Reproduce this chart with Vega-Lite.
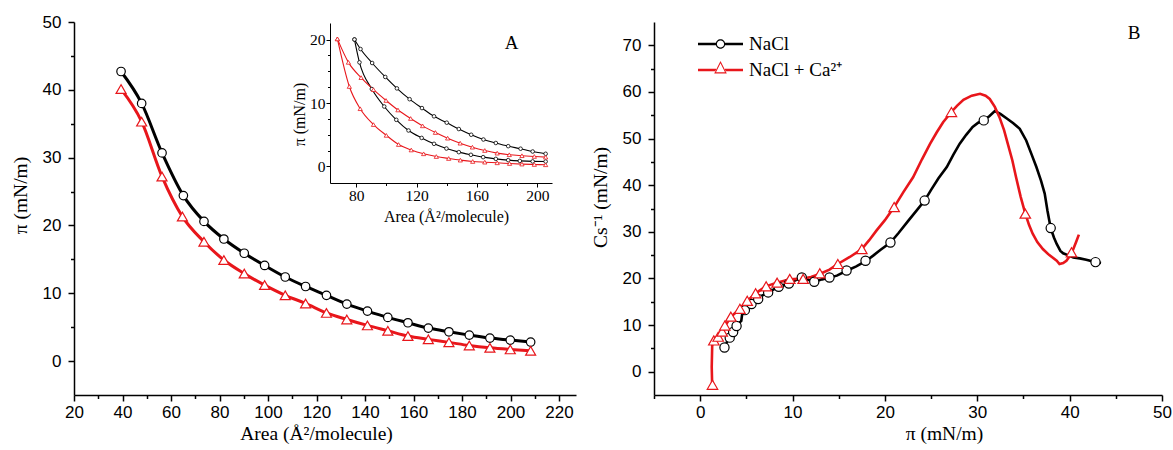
{
  "$schema": "https://vega.github.io/schema/vega-lite/v6.json",
  "width": 1173,
  "height": 450,
  "padding": 0,
  "autosize": {"type": "none"},
  "background": "white",
  "config": {
    "view": {"stroke": null},
    "axis": {"grid": false, "domainColor": "black", "tickColor": "black", "labelColor": "black", "titleColor": "black", "titleFontWeight": "normal", "labelFlush": false, "labelOverlap": false, "domainWidth": 1.5, "tickWidth": 1.5},
    "legend": {"orient": "none", "legendX": 698, "legendY": 34, "padding": 0, "labelFont": "Liberation Serif", "labelFontSize": 19, "labelColor": "black", "symbolSize": 2025, "clipHeight": 20, "rowPadding": 6, "labelOffset": 6, "labelLimit": 300, "symbolStrokeWidth": 0}
  },
  "datasets": {
    "amain": [
      {"series": "NaCl", "x": 39.4, "y": 42.7}, {"series": "NaCl", "x": 47.9, "y": 38.0}, {"series": "NaCl", "x": 56.3, "y": 30.7}, {"series": "NaCl", "x": 65.1, "y": 24.4}, {"series": "NaCl", "x": 73.6, "y": 20.6}, {"series": "NaCl", "x": 81.8, "y": 18.0}, {"series": "NaCl", "x": 90.2, "y": 15.9}, {"series": "NaCl", "x": 98.6, "y": 14.1}, {"series": "NaCl", "x": 107.1, "y": 12.4}, {"series": "NaCl", "x": 115.5, "y": 11.0}, {"series": "NaCl", "x": 124.1, "y": 9.7}, {"series": "NaCl", "x": 132.5, "y": 8.4}, {"series": "NaCl", "x": 141.0, "y": 7.37}, {"series": "NaCl", "x": 149.4, "y": 6.44}, {"series": "NaCl", "x": 157.7, "y": 5.65}, {"series": "NaCl", "x": 166.1, "y": 4.87}, {"series": "NaCl", "x": 174.6, "y": 4.32}, {"series": "NaCl", "x": 183.0, "y": 3.83}, {"series": "NaCl", "x": 191.5, "y": 3.39}, {"series": "NaCl", "x": 199.9, "y": 3.1}, {"series": "NaCl", "x": 208.3, "y": 2.8},
      {"series": "NaCl + Ca²⁺", "x": 39.4, "y": 40.1}, {"series": "NaCl + Ca²⁺", "x": 47.9, "y": 35.3}, {"series": "NaCl + Ca²⁺", "x": 56.3, "y": 27.2}, {"series": "NaCl + Ca²⁺", "x": 64.7, "y": 21.3}, {"series": "NaCl + Ca²⁺", "x": 73.6, "y": 17.6}, {"series": "NaCl + Ca²⁺", "x": 81.8, "y": 14.9}, {"series": "NaCl + Ca²⁺", "x": 90.2, "y": 12.9}, {"series": "NaCl + Ca²⁺", "x": 98.6, "y": 11.2}, {"series": "NaCl + Ca²⁺", "x": 107.1, "y": 9.7}, {"series": "NaCl + Ca²⁺", "x": 115.5, "y": 8.5}, {"series": "NaCl + Ca²⁺", "x": 124.1, "y": 7.1}, {"series": "NaCl + Ca²⁺", "x": 132.5, "y": 6.14}, {"series": "NaCl + Ca²⁺", "x": 141.0, "y": 5.26}, {"series": "NaCl + Ca²⁺", "x": 149.4, "y": 4.47}, {"series": "NaCl + Ca²⁺", "x": 157.7, "y": 3.69}, {"series": "NaCl + Ca²⁺", "x": 166.1, "y": 3.2}, {"series": "NaCl + Ca²⁺", "x": 174.6, "y": 2.76}, {"series": "NaCl + Ca²⁺", "x": 183.0, "y": 2.3}, {"series": "NaCl + Ca²⁺", "x": 191.5, "y": 1.96}, {"series": "NaCl + Ca²⁺", "x": 199.9, "y": 1.72}, {"series": "NaCl + Ca²⁺", "x": 208.3, "y": 1.52}
    ],
    "inset": [
      {"series": "NaCl", "cycle": "c", "x": 78.9, "y": 20.0}, {"series": "NaCl", "cycle": "c", "x": 82.9, "y": 18.5}, {"series": "NaCl", "cycle": "c", "x": 90.6, "y": 16.3}, {"series": "NaCl", "cycle": "c", "x": 99.3, "y": 14.1}, {"series": "NaCl", "cycle": "c", "x": 107.0, "y": 12.3}, {"series": "NaCl", "cycle": "c", "x": 115.4, "y": 10.6}, {"series": "NaCl", "cycle": "c", "x": 123.6, "y": 9.2}, {"series": "NaCl", "cycle": "c", "x": 131.6, "y": 7.9}, {"series": "NaCl", "cycle": "c", "x": 140.0, "y": 6.9}, {"series": "NaCl", "cycle": "c", "x": 148.0, "y": 5.9}, {"series": "NaCl", "cycle": "c", "x": 156.2, "y": 5.0}, {"series": "NaCl", "cycle": "c", "x": 164.3, "y": 4.25}, {"series": "NaCl", "cycle": "c", "x": 172.5, "y": 3.7}, {"series": "NaCl", "cycle": "c", "x": 180.7, "y": 3.2}, {"series": "NaCl", "cycle": "c", "x": 188.9, "y": 2.8}, {"series": "NaCl", "cycle": "c", "x": 196.9, "y": 2.36}, {"series": "NaCl", "cycle": "c", "x": 205.5, "y": 2.0},
      {"series": "NaCl", "cycle": "e", "x": 78.9, "y": 20.0}, {"series": "NaCl", "cycle": "e", "x": 82.2, "y": 16.4}, {"series": "NaCl", "cycle": "e", "x": 90.4, "y": 12.2}, {"series": "NaCl", "cycle": "e", "x": 98.6, "y": 9.45}, {"series": "NaCl", "cycle": "e", "x": 106.6, "y": 7.35}, {"series": "NaCl", "cycle": "e", "x": 114.7, "y": 5.67}, {"series": "NaCl", "cycle": "e", "x": 123.4, "y": 4.5}, {"series": "NaCl", "cycle": "e", "x": 131.6, "y": 3.57}, {"series": "NaCl", "cycle": "e", "x": 139.8, "y": 2.83}, {"series": "NaCl", "cycle": "e", "x": 148.0, "y": 2.26}, {"series": "NaCl", "cycle": "e", "x": 156.0, "y": 1.84}, {"series": "NaCl", "cycle": "e", "x": 164.1, "y": 1.47}, {"series": "NaCl", "cycle": "e", "x": 172.5, "y": 1.2}, {"series": "NaCl", "cycle": "e", "x": 180.7, "y": 1.0}, {"series": "NaCl", "cycle": "e", "x": 188.4, "y": 0.88}, {"series": "NaCl", "cycle": "e", "x": 196.9, "y": 0.8}, {"series": "NaCl", "cycle": "e", "x": 205.5, "y": 0.78},
      {"series": "NaCl + Ca²⁺", "cycle": "c", "x": 67.6, "y": 20.1}, {"series": "NaCl + Ca²⁺", "cycle": "c", "x": 74.9, "y": 16.4}, {"series": "NaCl + Ca²⁺", "cycle": "c", "x": 83.3, "y": 14.0}, {"series": "NaCl + Ca²⁺", "cycle": "c", "x": 91.5, "y": 12.1}, {"series": "NaCl + Ca²⁺", "cycle": "c", "x": 99.8, "y": 10.4}, {"series": "NaCl + Ca²⁺", "cycle": "c", "x": 107.7, "y": 8.9}, {"series": "NaCl + Ca²⁺", "cycle": "c", "x": 116.1, "y": 7.56}, {"series": "NaCl + Ca²⁺", "cycle": "c", "x": 124.0, "y": 6.4}, {"series": "NaCl + Ca²⁺", "cycle": "c", "x": 132.5, "y": 5.35}, {"series": "NaCl + Ca²⁺", "cycle": "c", "x": 140.6, "y": 4.46}, {"series": "NaCl + Ca²⁺", "cycle": "c", "x": 148.9, "y": 3.67}, {"series": "NaCl + Ca²⁺", "cycle": "c", "x": 157.0, "y": 3.04}, {"series": "NaCl + Ca²⁺", "cycle": "c", "x": 165.2, "y": 2.52}, {"series": "NaCl + Ca²⁺", "cycle": "c", "x": 173.4, "y": 2.1}, {"series": "NaCl + Ca²⁺", "cycle": "c", "x": 181.4, "y": 1.85}, {"series": "NaCl + Ca²⁺", "cycle": "c", "x": 189.8, "y": 1.7}, {"series": "NaCl + Ca²⁺", "cycle": "c", "x": 198.0, "y": 1.58}, {"series": "NaCl + Ca²⁺", "cycle": "c", "x": 205.5, "y": 1.47},
      {"series": "NaCl + Ca²⁺", "cycle": "e", "x": 67.6, "y": 20.1}, {"series": "NaCl + Ca²⁺", "cycle": "e", "x": 75.5, "y": 12.6}, {"series": "NaCl + Ca²⁺", "cycle": "e", "x": 82.7, "y": 9.1}, {"series": "NaCl + Ca²⁺", "cycle": "e", "x": 91.5, "y": 6.6}, {"series": "NaCl + Ca²⁺", "cycle": "e", "x": 100.0, "y": 4.9}, {"series": "NaCl + Ca²⁺", "cycle": "e", "x": 108.1, "y": 3.46}, {"series": "NaCl + Ca²⁺", "cycle": "e", "x": 116.5, "y": 2.6}, {"series": "NaCl + Ca²⁺", "cycle": "e", "x": 124.7, "y": 2.0}, {"series": "NaCl + Ca²⁺", "cycle": "e", "x": 133.1, "y": 1.57}, {"series": "NaCl + Ca²⁺", "cycle": "e", "x": 141.3, "y": 1.26}, {"series": "NaCl + Ca²⁺", "cycle": "e", "x": 149.0, "y": 1.0}, {"series": "NaCl + Ca²⁺", "cycle": "e", "x": 157.2, "y": 0.79}, {"series": "NaCl + Ca²⁺", "cycle": "e", "x": 165.2, "y": 0.68}, {"series": "NaCl + Ca²⁺", "cycle": "e", "x": 173.4, "y": 0.58}, {"series": "NaCl + Ca²⁺", "cycle": "e", "x": 181.6, "y": 0.47}, {"series": "NaCl + Ca²⁺", "cycle": "e", "x": 189.8, "y": 0.38}, {"series": "NaCl + Ca²⁺", "cycle": "e", "x": 198.0, "y": 0.32}, {"series": "NaCl + Ca²⁺", "cycle": "e", "x": 205.5, "y": 0.27}
    ],
    "bline": [
      {"series": "NaCl", "i": 0, "x": 2.6, "y": 5.0}, {"series": "NaCl", "i": 1, "x": 2.9, "y": 6.4}, {"series": "NaCl", "i": 2, "x": 3.2, "y": 7.5}, {"series": "NaCl", "i": 3, "x": 3.6, "y": 8.7}, {"series": "NaCl", "i": 4, "x": 3.9, "y": 9.7}, {"series": "NaCl", "i": 5, "x": 4.2, "y": 10.4}, {"series": "NaCl", "i": 6, "x": 4.45, "y": 10.9}, {"series": "NaCl", "i": 7, "x": 4.55, "y": 12.4}, {"series": "NaCl", "i": 8, "x": 5.0, "y": 13.4}, {"series": "NaCl", "i": 9, "x": 5.5, "y": 14.4}, {"series": "NaCl", "i": 10, "x": 6.1, "y": 15.4}, {"series": "NaCl", "i": 11, "x": 6.7, "y": 16.3}, {"series": "NaCl", "i": 12, "x": 7.4, "y": 17.0}, {"series": "NaCl", "i": 13, "x": 8.1, "y": 17.8}, {"series": "NaCl", "i": 14, "x": 8.8, "y": 18.4}, {"series": "NaCl", "i": 15, "x": 9.6, "y": 18.9}, {"series": "NaCl", "i": 16, "x": 10.3, "y": 19.6}, {"series": "NaCl", "i": 17, "x": 11.0, "y": 20.2}, {"series": "NaCl", "i": 18, "x": 11.7, "y": 19.7}, {"series": "NaCl", "i": 19, "x": 12.4, "y": 19.3}, {"series": "NaCl", "i": 20, "x": 13.2, "y": 19.8}, {"series": "NaCl", "i": 21, "x": 14.0, "y": 20.2}, {"series": "NaCl", "i": 22, "x": 14.8, "y": 20.6}, {"series": "NaCl", "i": 23, "x": 15.8, "y": 21.6}, {"series": "NaCl", "i": 24, "x": 16.9, "y": 22.6}, {"series": "NaCl", "i": 25, "x": 18.0, "y": 23.8}, {"series": "NaCl", "i": 26, "x": 18.8, "y": 25.0}, {"series": "NaCl", "i": 27, "x": 19.5, "y": 26.1}, {"series": "NaCl", "i": 28, "x": 20.6, "y": 27.7}, {"series": "NaCl", "i": 29, "x": 21.5, "y": 29.8}, {"series": "NaCl", "i": 30, "x": 22.5, "y": 32.3}, {"series": "NaCl", "i": 31, "x": 23.4, "y": 34.5}, {"series": "NaCl", "i": 32, "x": 24.3, "y": 36.7}, {"series": "NaCl", "i": 33, "x": 25.0, "y": 39.0}, {"series": "NaCl", "i": 34, "x": 25.8, "y": 41.5}, {"series": "NaCl", "i": 35, "x": 26.7, "y": 43.9}, {"series": "NaCl", "i": 36, "x": 27.4, "y": 46.5}, {"series": "NaCl", "i": 37, "x": 28.1, "y": 48.9}, {"series": "NaCl", "i": 38, "x": 28.8, "y": 50.8}, {"series": "NaCl", "i": 39, "x": 29.5, "y": 52.5}, {"series": "NaCl", "i": 40, "x": 30.1, "y": 53.4}, {"series": "NaCl", "i": 41, "x": 30.7, "y": 53.9}, {"series": "NaCl", "i": 42, "x": 31.3, "y": 54.8}, {"series": "NaCl", "i": 43, "x": 31.9, "y": 55.9}, {"series": "NaCl", "i": 44, "x": 32.5, "y": 55.3}, {"series": "NaCl", "i": 45, "x": 33.2, "y": 54.3}, {"series": "NaCl", "i": 46, "x": 33.9, "y": 53.3}, {"series": "NaCl", "i": 47, "x": 34.6, "y": 52.1}, {"series": "NaCl", "i": 48, "x": 35.3, "y": 49.6}, {"series": "NaCl", "i": 49, "x": 35.9, "y": 46.5}, {"series": "NaCl", "i": 50, "x": 36.4, "y": 43.9}, {"series": "NaCl", "i": 51, "x": 36.9, "y": 41.0}, {"series": "NaCl", "i": 52, "x": 37.3, "y": 38.2}, {"series": "NaCl", "i": 53, "x": 37.6, "y": 34.5}, {"series": "NaCl", "i": 54, "x": 37.95, "y": 30.8}, {"series": "NaCl", "i": 55, "x": 38.3, "y": 28.8}, {"series": "NaCl", "i": 56, "x": 38.6, "y": 27.4}, {"series": "NaCl", "i": 57, "x": 39.0, "y": 25.9}, {"series": "NaCl", "i": 58, "x": 39.3, "y": 25.4}, {"series": "NaCl", "i": 59, "x": 39.8, "y": 25.0}, {"series": "NaCl", "i": 60, "x": 40.4, "y": 24.5}, {"series": "NaCl", "i": 61, "x": 41.1, "y": 24.3}, {"series": "NaCl", "i": 62, "x": 41.8, "y": 24.0}, {"series": "NaCl", "i": 63, "x": 42.8, "y": 23.5}, {"series": "NaCl", "i": 64, "x": 43.4, "y": 23.3},
      {"series": "NaCl + Ca²⁺", "i": 0, "x": 1.3, "y": -3.0}, {"series": "NaCl + Ca²⁺", "i": 1, "x": 1.25, "y": 1.0}, {"series": "NaCl + Ca²⁺", "i": 2, "x": 1.3, "y": 5.5}, {"series": "NaCl + Ca²⁺", "i": 3, "x": 1.4, "y": 6.7}, {"series": "NaCl + Ca²⁺", "i": 4, "x": 1.95, "y": 7.6}, {"series": "NaCl + Ca²⁺", "i": 5, "x": 2.4, "y": 8.7}, {"series": "NaCl + Ca²⁺", "i": 6, "x": 2.7, "y": 9.8}, {"series": "NaCl + Ca²⁺", "i": 7, "x": 3.3, "y": 11.7}, {"series": "NaCl + Ca²⁺", "i": 8, "x": 4.3, "y": 13.5}, {"series": "NaCl + Ca²⁺", "i": 9, "x": 5.1, "y": 15.2}, {"series": "NaCl + Ca²⁺", "i": 10, "x": 6.0, "y": 16.8}, {"series": "NaCl + Ca²⁺", "i": 11, "x": 7.1, "y": 18.3}, {"series": "NaCl + Ca²⁺", "i": 12, "x": 8.3, "y": 19.1}, {"series": "NaCl + Ca²⁺", "i": 13, "x": 9.7, "y": 19.8}, {"series": "NaCl + Ca²⁺", "i": 14, "x": 11.1, "y": 20.0}, {"series": "NaCl + Ca²⁺", "i": 15, "x": 12.0, "y": 20.3}, {"series": "NaCl + Ca²⁺", "i": 16, "x": 13.0, "y": 21.0}, {"series": "NaCl + Ca²⁺", "i": 17, "x": 14.0, "y": 21.9}, {"series": "NaCl + Ca²⁺", "i": 18, "x": 14.9, "y": 23.1}, {"series": "NaCl + Ca²⁺", "i": 19, "x": 16.2, "y": 24.6}, {"series": "NaCl + Ca²⁺", "i": 20, "x": 17.5, "y": 26.3}, {"series": "NaCl + Ca²⁺", "i": 21, "x": 18.3, "y": 28.2}, {"series": "NaCl + Ca²⁺", "i": 22, "x": 19.1, "y": 30.3}, {"series": "NaCl + Ca²⁺", "i": 23, "x": 20.0, "y": 32.5}, {"series": "NaCl + Ca²⁺", "i": 24, "x": 21.0, "y": 35.3}, {"series": "NaCl + Ca²⁺", "i": 25, "x": 22.0, "y": 38.5}, {"series": "NaCl + Ca²⁺", "i": 26, "x": 23.05, "y": 41.7}, {"series": "NaCl + Ca²⁺", "i": 27, "x": 24.0, "y": 45.5}, {"series": "NaCl + Ca²⁺", "i": 28, "x": 24.9, "y": 48.9}, {"series": "NaCl + Ca²⁺", "i": 29, "x": 25.6, "y": 51.3}, {"series": "NaCl + Ca²⁺", "i": 30, "x": 26.3, "y": 53.5}, {"series": "NaCl + Ca²⁺", "i": 31, "x": 27.2, "y": 55.7}, {"series": "NaCl + Ca²⁺", "i": 32, "x": 27.8, "y": 57.0}, {"series": "NaCl + Ca²⁺", "i": 33, "x": 28.5, "y": 58.3}, {"series": "NaCl + Ca²⁺", "i": 34, "x": 29.4, "y": 59.2}, {"series": "NaCl + Ca²⁺", "i": 35, "x": 30.3, "y": 59.6}, {"series": "NaCl + Ca²⁺", "i": 36, "x": 30.9, "y": 59.2}, {"series": "NaCl + Ca²⁺", "i": 37, "x": 31.35, "y": 58.5}, {"series": "NaCl + Ca²⁺", "i": 38, "x": 31.9, "y": 56.8}, {"series": "NaCl + Ca²⁺", "i": 39, "x": 32.4, "y": 54.6}, {"series": "NaCl + Ca²⁺", "i": 40, "x": 32.9, "y": 51.8}, {"series": "NaCl + Ca²⁺", "i": 41, "x": 33.3, "y": 48.9}, {"series": "NaCl + Ca²⁺", "i": 42, "x": 33.8, "y": 45.3}, {"series": "NaCl + Ca²⁺", "i": 43, "x": 34.2, "y": 41.7}, {"series": "NaCl + Ca²⁺", "i": 44, "x": 34.7, "y": 37.5}, {"series": "NaCl + Ca²⁺", "i": 45, "x": 35.2, "y": 33.9}, {"series": "NaCl + Ca²⁺", "i": 46, "x": 35.6, "y": 31.5}, {"series": "NaCl + Ca²⁺", "i": 47, "x": 36.0, "y": 29.6}, {"series": "NaCl + Ca²⁺", "i": 48, "x": 36.5, "y": 27.8}, {"series": "NaCl + Ca²⁺", "i": 49, "x": 37.1, "y": 26.3}, {"series": "NaCl + Ca²⁺", "i": 50, "x": 37.8, "y": 25.0}, {"series": "NaCl + Ca²⁺", "i": 51, "x": 38.6, "y": 23.8}, {"series": "NaCl + Ca²⁺", "i": 52, "x": 38.9, "y": 23.1}, {"series": "NaCl + Ca²⁺", "i": 53, "x": 39.3, "y": 23.3}, {"series": "NaCl + Ca²⁺", "i": 54, "x": 39.65, "y": 23.8}, {"series": "NaCl + Ca²⁺", "i": 55, "x": 40.2, "y": 25.3}, {"series": "NaCl + Ca²⁺", "i": 56, "x": 40.7, "y": 27.8}, {"series": "NaCl + Ca²⁺", "i": 57, "x": 41.0, "y": 29.4}
    ],
    "bmark": [
      {"series": "NaCl", "x": 2.63, "y": 5.2}, {"series": "NaCl", "x": 3.2, "y": 7.3}, {"series": "NaCl", "x": 3.57, "y": 8.5}, {"series": "NaCl", "x": 3.94, "y": 9.8}, {"series": "NaCl", "x": 4.84, "y": 13.2}, {"series": "NaCl", "x": 5.56, "y": 14.5}, {"series": "NaCl", "x": 6.28, "y": 15.6}, {"series": "NaCl", "x": 7.36, "y": 17.0}, {"series": "NaCl", "x": 8.5, "y": 18.2}, {"series": "NaCl", "x": 9.6, "y": 18.9}, {"series": "NaCl", "x": 11.0, "y": 20.2}, {"series": "NaCl", "x": 12.35, "y": 19.3}, {"series": "NaCl", "x": 14.0, "y": 20.2}, {"series": "NaCl", "x": 15.85, "y": 21.7}, {"series": "NaCl", "x": 17.9, "y": 23.8}, {"series": "NaCl", "x": 20.6, "y": 27.7}, {"series": "NaCl", "x": 24.3, "y": 36.7}, {"series": "NaCl", "x": 30.7, "y": 53.9}, {"series": "NaCl", "x": 37.95, "y": 30.8}, {"series": "NaCl", "x": 42.8, "y": 23.5},
      {"series": "NaCl + Ca²⁺", "x": 1.33, "y": -2.8}, {"series": "NaCl + Ca²⁺", "x": 1.48, "y": 6.7}, {"series": "NaCl + Ca²⁺", "x": 1.95, "y": 7.5}, {"series": "NaCl + Ca²⁺", "x": 2.38, "y": 8.6}, {"series": "NaCl + Ca²⁺", "x": 2.67, "y": 9.9}, {"series": "NaCl + Ca²⁺", "x": 3.32, "y": 11.8}, {"series": "NaCl + Ca²⁺", "x": 4.3, "y": 13.5}, {"series": "NaCl + Ca²⁺", "x": 5.09, "y": 15.2}, {"series": "NaCl + Ca²⁺", "x": 6.0, "y": 16.8}, {"series": "NaCl + Ca²⁺", "x": 7.14, "y": 18.3}, {"series": "NaCl + Ca²⁺", "x": 8.33, "y": 19.1}, {"series": "NaCl + Ca²⁺", "x": 9.7, "y": 19.9}, {"series": "NaCl + Ca²⁺", "x": 11.15, "y": 19.9}, {"series": "NaCl + Ca²⁺", "x": 12.95, "y": 21.1}, {"series": "NaCl + Ca²⁺", "x": 14.9, "y": 23.1}, {"series": "NaCl + Ca²⁺", "x": 17.5, "y": 26.3}, {"series": "NaCl + Ca²⁺", "x": 21.0, "y": 35.3}, {"series": "NaCl + Ca²⁺", "x": 27.2, "y": 55.7}, {"series": "NaCl + Ca²⁺", "x": 35.2, "y": 33.9}, {"series": "NaCl + Ca²⁺", "x": 40.2, "y": 25.6}
    ]
  },
  "layer": [
    {
      "data": {"name": "amain"},
      "encoding": {
        "x": {"field": "x", "type": "quantitative", "scale": {"domain": [20, 227], "range": [74, 576], "nice": false, "zero": false},
          "axis": {"orient": "bottom", "offset": -55, "values": [20, 30, 40, 50, 60, 70, 80, 90, 100, 110, 120, 130, 140, 150, 160, 170, 180, 190, 200, 210, 220], "labelExpr": "datum.value % 20 === 0 ? datum.label : ''", "tickSize": {"condition": {"test": "datum.value % 20 === 0", "value": 6}, "value": 3.5}, "title": "Area (Å²/molecule)", "titleFont": "Liberation Serif", "titleFontSize": 19.5, "labelFont": "Liberation Sans", "labelFontSize": 17, "labelPadding": 3, "titlePadding": 4, "titleX": 316}},
        "y": {"field": "y", "type": "quantitative", "scale": {"domain": [-5, 50], "range": [395, 22], "nice": false, "zero": false},
          "axis": {"orient": "left", "offset": -74, "values": [0, 5, 10, 15, 20, 25, 30, 35, 40, 45, 50], "labelExpr": "datum.value % 10 === 0 ? datum.label : ''", "tickSize": {"condition": {"test": "datum.value % 10 === 0", "value": 6}, "value": 3.5}, "title": "π (mN/m)", "titleFont": "Liberation Serif", "titleFontSize": 19.5, "labelFont": "Liberation Sans", "labelFontSize": 17, "labelPadding": 7, "titlePadding": 12, "titleY": 195}}
      },
      "layer": [
        {"mark": {"type": "line", "interpolate": "monotone", "strokeWidth": 3},
          "encoding": {"stroke": {"field": "series", "type": "nominal", "scale": {"domain": ["NaCl + Ca²⁺", "NaCl"], "range": ["#e8161b", "black"]}, "legend": null}}},
        {"transform": [{"filter": "datum.series === 'NaCl'"}], "mark": {"type": "point", "shape": "circle", "filled": false, "fill": "white", "size": 72, "strokeWidth": 1.2, "opacity": 1},
          "encoding": {"stroke": {"field": "series", "type": "nominal", "legend": null}}},
        {"transform": [{"filter": "datum.series !== 'NaCl'"}], "mark": {"type": "point", "shape": "triangle-up", "filled": false, "fill": "white", "size": 100, "strokeWidth": 1.2, "opacity": 1},
          "encoding": {"stroke": {"field": "series", "type": "nominal", "legend": null}}},
        {"data": {"values": [{"label": "A", "x": 200.5, "y": 46.9}]}, "mark": {"type": "text", "font": "Liberation Serif", "fontSize": 19, "color": "black", "baseline": "middle", "align": "center"},
          "encoding": {"text": {"field": "label", "type": "nominal"}}}
      ]
    },
    {
      "data": {"name": "inset"},
      "encoding": {
        "x": {"field": "x", "type": "quantitative", "scale": {"domain": [62.7, 209.7], "range": [330, 552], "nice": false, "zero": false},
          "axis": {"orient": "bottom", "offset": -267, "values": [80, 100, 120, 140, 160, 180, 200], "labelExpr": "datum.value % 40 === 0 ? datum.label : ''", "tickSize": {"condition": {"test": "datum.value % 40 === 0", "value": 4}, "value": 2.5}, "title": "Area (Å²/molecule)", "titleFont": "Liberation Serif", "titleFontSize": 16, "labelFont": "Liberation Serif", "labelFontSize": 15.5, "labelPadding": 1, "titlePadding": 5, "titleX": 446, "domainWidth": 1, "tickWidth": 1}},
        "y": {"field": "y", "type": "quantitative", "scale": {"domain": [-2.6, 22.6], "range": [183, 23], "nice": false, "zero": false},
          "axis": {"orient": "left", "offset": -330, "values": [0, 2.5, 5, 7.5, 10, 12.5, 15, 17.5, 20], "labelExpr": "datum.value % 10 === 0 ? datum.label : ''", "tickSize": {"condition": {"test": "datum.value % 10 === 0", "value": 4}, "value": 2.5}, "title": "π (mN/m)", "titleFont": "Liberation Serif", "titleFontSize": 16, "labelFont": "Liberation Serif", "labelFontSize": 15.5, "labelPadding": 1, "titlePadding": 2, "titleY": 114, "domainWidth": 1, "tickWidth": 1}}
      },
      "layer": [
        {"mark": {"type": "line", "interpolate": "monotone", "strokeWidth": 1.1},
          "encoding": {"detail": {"field": "cycle", "type": "nominal"}, "stroke": {"field": "series", "type": "nominal", "legend": null}}},
        {"transform": [{"filter": "datum.series === 'NaCl'"}], "mark": {"type": "point", "shape": "circle", "filled": false, "fill": "white", "size": 13, "strokeWidth": 0.8, "opacity": 1},
          "encoding": {"stroke": {"field": "series", "type": "nominal", "legend": null}}},
        {"transform": [{"filter": "datum.series !== 'NaCl'"}], "mark": {"type": "point", "shape": "triangle-up", "filled": false, "fill": "white", "size": 18, "strokeWidth": 0.8, "opacity": 1},
          "encoding": {"stroke": {"field": "series", "type": "nominal", "legend": null}}}
      ]
    },
    {
      "encoding": {
        "x": {"field": "x", "type": "quantitative", "scale": {"domain": [-5, 50], "range": [654, 1162], "nice": false, "zero": false},
          "axis": {"orient": "bottom", "offset": -55, "values": [-5, 0, 5, 10, 15, 20, 25, 30, 35, 40, 45, 50], "labelExpr": "datum.value % 10 === 0 ? datum.label : ''", "tickSize": {"condition": {"test": "datum.value % 10 === 0", "value": 6}, "value": 3.5}, "title": "π (mN/m)", "titleFont": "Liberation Serif", "titleFontSize": 19.5, "labelFont": "Liberation Sans", "labelFontSize": 17, "labelPadding": 3, "titlePadding": 4, "titleX": 944}},
        "y": {"field": "y", "type": "quantitative", "scale": {"domain": [-5, 75], "range": [395, 22], "nice": false, "zero": false},
          "axis": {"orient": "left", "offset": -654, "values": [0, 5, 10, 15, 20, 25, 30, 35, 40, 45, 50, 55, 60, 65, 70], "labelExpr": "datum.value % 10 === 0 ? datum.label : ''", "tickSize": {"condition": {"test": "datum.value % 10 === 0", "value": 6}, "value": 3.5}, "title": "Cs⁻¹ (mN/m)", "titleFont": "Liberation Serif", "titleFontSize": 19.5, "labelFont": "Liberation Sans", "labelFontSize": 17, "labelPadding": 7, "titlePadding": 12, "titleY": 197}}
      },
      "layer": [
        {"data": {"name": "bline"}, "mark": {"type": "line", "interpolate": "linear", "strokeWidth": 2.6},
          "encoding": {"order": {"field": "i", "type": "quantitative"}, "stroke": {"field": "series", "type": "nominal", "legend": null}}},
        {"data": {"name": "bmark"}, "transform": [{"filter": "datum.series === 'NaCl'"}], "mark": {"type": "point", "shape": "circle", "filled": false, "fill": "white", "size": 85, "strokeWidth": 1.2, "opacity": 1},
          "encoding": {"stroke": {"field": "series", "type": "nominal", "legend": null}}},
        {"data": {"name": "bmark"}, "transform": [{"filter": "datum.series !== 'NaCl'"}], "mark": {"type": "point", "shape": "triangle-up", "filled": false, "fill": "white", "size": 110, "strokeWidth": 1.2, "opacity": 1},
          "encoding": {"stroke": {"field": "series", "type": "nominal", "legend": null}}},
        {"data": {"values": [{"label": "B", "x": 46.97, "y": 72.6}]}, "mark": {"type": "text", "font": "Liberation Serif", "fontSize": 19, "color": "black", "baseline": "middle", "align": "center"},
          "encoding": {"text": {"field": "label", "type": "nominal"}}},
        {"data": {"values": []}, "mark": {"type": "point", "filled": true, "size": 2025, "opacity": 1, "strokeWidth": 0},
          "encoding": {
            "color": {"field": "series", "type": "nominal", "scale": {"domain": ["NaCl", "NaCl + Ca²⁺"], "range": ["black", "#e8161b"]}, "legend": {"title": null}},
            "shape": {"field": "series", "type": "nominal", "scale": {"domain": ["NaCl", "NaCl + Ca²⁺"], "range": ["M-1,-0.06V0.06H-0.205V-0.06Z M0.205,-0.06V0.06H1V-0.06Z M0.21,0A0.21,0.21 0 1 0 -0.21,0A0.21,0.21 0 1 0 0.21,0Z M0.16,0A0.16,0.16 0 1 1 -0.16,0A0.16,0.16 0 1 1 0.16,0Z", "M-1,-0.06V0.06H-0.2V-0.06Z M0.2,-0.06V0.06H1V-0.06Z M0,-0.4L0.28,0.15L-0.28,0.15Z M0,-0.3L-0.2,0.1L0.2,0.1Z"]}, "legend": {"title": null}}}}
      ]
    }
  ],
  "resolve": {"scale": {"x": "independent", "y": "independent"}, "axis": {"x": "independent", "y": "independent"}}
}
